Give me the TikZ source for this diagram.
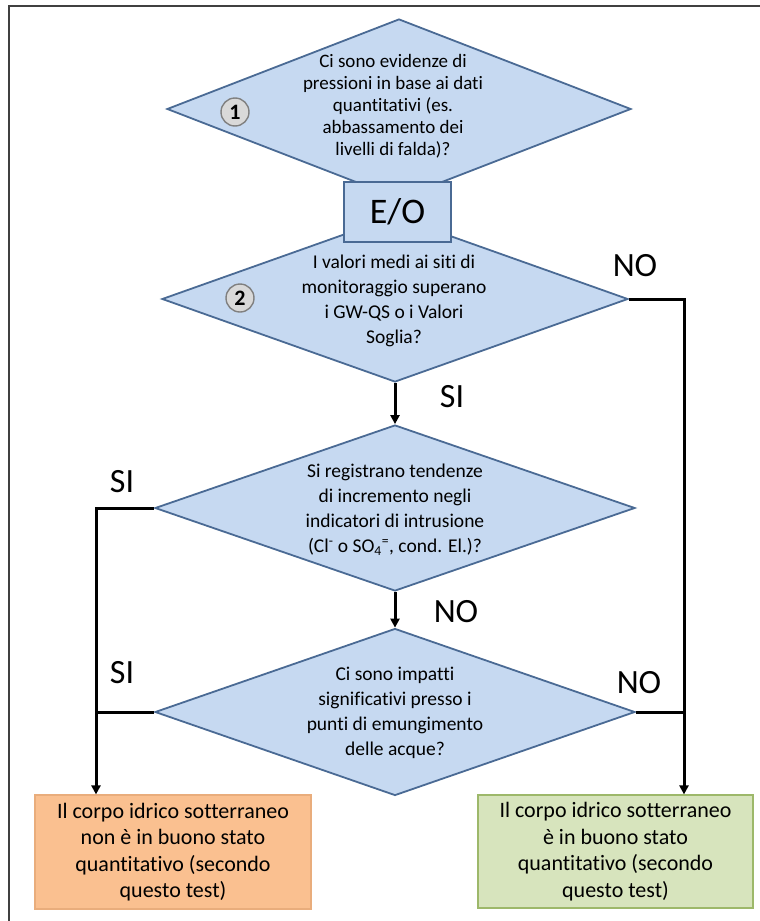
\documentclass[tikz,border=0pt]{standalone}
\usepackage{fontspec}
\setmainfont{Carlito}[Ligatures=NoCommon]
\usetikzlibrary{shapes.geometric,arrows.meta}

\definecolor{qfill}{HTML}{C6D9F1}
\definecolor{qline}{HTML}{4A6A94}
\definecolor{badfill}{HTML}{FAC090}
\definecolor{badline}{HTML}{E9AD7C}
\definecolor{okfill}{HTML}{D7E4BD}
\definecolor{okline}{HTML}{9DB86A}
\definecolor{numfill}{HTML}{D9D9D9}
\definecolor{numline}{HTML}{808080}

\begin{document}
\begin{tikzpicture}[x=1pt,y=-1pt]
    % Keep the page the size of the whole chart
    \useasboundingbox (0,0) rectangle (760,921);

    % Styles for the questions, the outcomes and the arrows
    \tikzstyle{every node}=[font=\fontsize{19.5}{25}\selectfont]
    \tikzstyle{question}=[diamond, draw=qline, fill=qfill, line width=1.8pt, inner sep=0pt]
    \tikzstyle{qtext}=[align=center, inner sep=0pt]
    \tikzstyle{outcome}=[rectangle, line width=1.2pt, minimum width=276pt, minimum height=114pt, align=center, font=\fontsize{22}{26.5}\selectfont]
    \tikzstyle{answer}=[inner sep=0pt, font=\fontsize{34}{34}\selectfont]
    \tikzstyle{number}=[circle, draw=numline, fill=numfill, line width=1.4pt, minimum size=28pt, inner sep=0pt, font=\fontsize{22}{22}\selectfont\bfseries]
    \tikzstyle{flow}=[line width=3pt, -{Triangle[length=9pt,width=9pt]}]
    \tikzstyle{sideline}=[line width=3pt]

    % Outer frame
    \draw[line width=2pt, black!75] (9,921) -- (9,6) -- (760,6);

    % The two first questions
    \node[question, minimum width=464pt, minimum height=180pt] (d1) at (399,109) {};
    \node[qtext, font=\fontsize{19}{22}\selectfont] (t1) at (393,106)
        {Ci sono evidenze di\\ pressioni in base ai dati\\ quantitativi (es.\\ abbassamento dei\\ livelli di falda)?};
    \node[question, minimum width=466pt, minimum height=166pt] (d2) at (395,299) {};
    \node[qtext] (t2) at (394,301)
        {I valori medi ai siti di\\ monitoraggio superano\\ i GW-QS o i Valori\\ Soglia?};

    % The box between them
    \node[rectangle, draw=qline, fill=qfill, line width=1.8pt, minimum width=107pt, minimum height=60pt, font=\fontsize{36}{36}\selectfont] (eo) at (397.5,212) {E/O};

    % Numbers on the first two questions
    \node[number] (n1) at (235,112) {1};
    \node[number] (n2) at (240,298) {2};

    % The two further questions
    \node[question, minimum width=480pt, minimum height=166pt] (d3) at (395,508) {};
    \node[qtext] (t3) at (395,510)
        {Si registrano tendenze\\ di incremento negli\\ indicatori di intrusione\\ (Cl\textsuperscript{-} o SO\textsubscript{4}\textsuperscript{=}, cond. El.)?};
    \node[question, minimum width=480pt, minimum height=167pt] (d4) at (395,712) {};
    \node[qtext] (t4) at (395,713)
        {Ci sono impatti\\ significativi presso i\\ punti di emungimento\\ delle acque?};

    % The two outcomes
    \node[outcome, draw=badline, fill=badfill] (bad) at (173,852)
        {Il corpo idrico sotterraneo\\ non è in buono stato\\ quantitativo (secondo\\ questo test)};
    \node[outcome, draw=okline, fill=okfill, minimum width=275pt, minimum height=113pt] (ok) at (615.5,851.5)
        {Il corpo idrico sotterraneo\\ è in buono stato\\ quantitativo (secondo\\ questo test)};

    % Corners of the side lines
    \coordinate (noturn) at (684,299);
    \coordinate (siturn) at (96,508);

    % Connectors
    \draw[flow] (d2.east) -- (noturn) -- (noturn |- ok.north);
    \draw[sideline] (d4.east) -- (noturn |- d4.east);
    \draw[flow] (d3.west) -- (siturn) -- (siturn |- bad.north);
    \draw[sideline] (d4.west) -- (siturn |- d4.west);
    \draw[flow] (d2.south) -- (d3.north);
    \draw[flow] (d3.south) -- (d4.north);

    % Answers next to the lines
    \node[answer] (noa) at (635,266) {NO};
    \node[answer] (sia) at (452,397) {SI};
    \node[answer] (sib) at (122,482) {SI};
    \node[answer] (nob) at (456,612) {NO};
    \node[answer] (sic) at (122,673) {SI};
    \node[answer] (noc) at (639,683) {NO};
\end{tikzpicture}
\end{document}
